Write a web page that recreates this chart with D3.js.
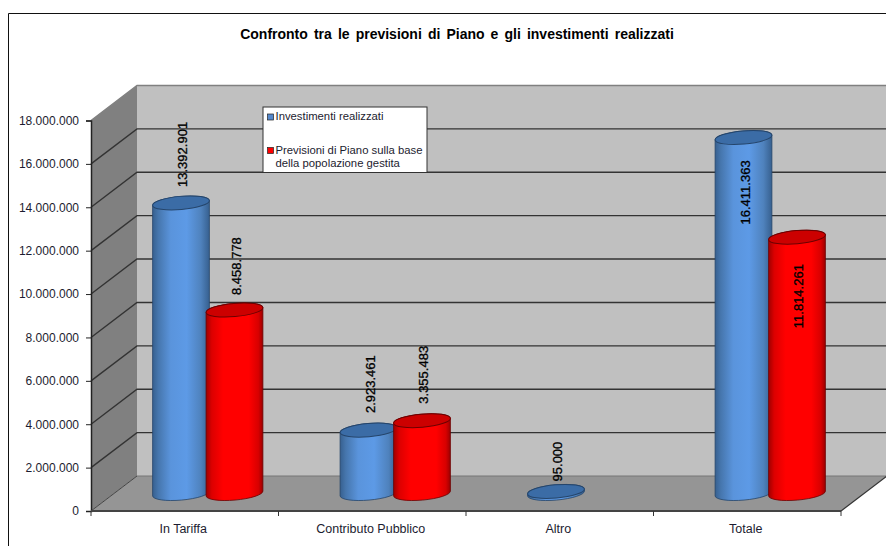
<!DOCTYPE html>
<html>
<head>
<meta charset="utf-8">
<script src="https://cdn.jsdelivr.net/npm/d3@7/dist/d3.min.js"></script>
<style>
  html, body { margin: 0; padding: 0; background: #fff; }
  svg { display: block; font-family: "Liberation Sans", Arial, sans-serif; }
</style>
</head>
<body>
<div id="chart"></div>
<script>
// Data
const categories = ["In Tariffa", "Contributo Pubblico", "Altro", "Totale"];
const seriesNames = ["Investimenti realizzati", "Previsioni di Piano sulla base"];
const investimenti = [13392901, 2923461, 95000, 16411363];
const previsioni = [8458778, 3355483, null, 11814261];
const yTicks = [0, 2e6, 4e6, 6e6, 8e6, 10e6, 12e6, 14e6, 16e6, 18e6];

// Distance from each cylinder's top to the start of its label (negative = inside the bar)
const labelLift = [[16, 15], [17, 17], [10, 0], [-87, -91]];

const width = 886, height = 546;
const front = { left: 91, right: 841, top: 120.5, bottom: 511 };
const depth = { x: 46, y: -35 };

const svg = d3.select("#chart").append("svg").attr("width", width).attr("height", height);

const y = d3.scaleLinear().domain([0, 18e6]).range([front.bottom, front.top]);
const x = d3.scaleBand().domain(categories).range([front.left, front.right]);
const seriesX = d3.scaleBand().domain([0, 1]).range([-53.5, 53.5]);
const it = d3.formatLocale({ decimal: ",", thousands: ".", grouping: [3], currency: ["€", ""] });
const fmt = it.format(",d");

// Outer frame: only the top and left edges fall inside the page
svg.append("path")
  .attr("d", `M8.5,${height}V13.5H${width}`)
  .attr("fill", "none").attr("stroke", "#111").attr("stroke-width", 1);

// Title
svg.append("text").attr("x", 457).attr("y", 39).attr("text-anchor", "middle")
  .attr("font-size", 14).attr("font-weight", "bold").attr("fill", "#000")
  .attr("word-spacing", 2.2)
  .text("Confronto tra le previsioni di Piano e gli investimenti realizzati");

// 3D box: back wall, side wall, floor
const bx = front.left + depth.x, bxr = front.right + depth.x;
const by = v => y(v) + depth.y;
const line = d3.line();
const gridColor = "#333";

svg.append("path")
  .attr("d", line([[bx, by(18e6)], [bxr, by(18e6)], [bxr, by(0)], [bx, by(0)]]) + "Z")
  .attr("fill", "#c0c0c0");
svg.append("path")
  .attr("d", line([[front.left, y(18e6)], [bx, by(18e6)], [bx, by(0)], [front.left, y(0)]]) + "Z")
  .attr("fill", "#808080");
svg.append("path")
  .attr("d", line([[front.left, y(0)], [bx, by(0)], [bxr, by(0)], [front.right, y(0)]]) + "Z")
  .attr("fill", "#959595");

// Gridlines on both walls
svg.append("g").selectAll("path").data(yTicks.slice(1)).join("path")
  .attr("d", d => line([[front.left, y(d)], [bx, by(d)], [bxr, by(d)]]))
  .attr("fill", "none")
  .attr("stroke", d => d === 18e6 ? "#808080" : gridColor)
  .attr("stroke-width", 1.4);
svg.append("path")
  .attr("d", line([[front.left, y(0)], [bx, by(0)]]))
  .attr("stroke", "#444").attr("stroke-width", 1).attr("fill", "none");
svg.append("path")
  .attr("d", line([[bx, by(0)], [bxr, by(0)]]))
  .attr("stroke", "#777").attr("stroke-width", 1).attr("fill", "none");
svg.append("path")
  .attr("d", line([[front.right, y(0)], [bxr, by(0)]]))
  .attr("stroke", "#333").attr("stroke-width", 1.2).attr("fill", "none");

// Axes
const yAxis = svg.append("g").attr("transform", `translate(${front.left},0)`)
  .call(d3.axisLeft(y).tickValues(yTicks).tickFormat(fmt).tickSize(5).tickPadding(7));
const xAxis = svg.append("g").attr("transform", `translate(-1.5,${front.bottom})`)
  .call(d3.axisBottom(x).tickSize(0).tickPadding(13));
xAxis.select(".domain").remove();
yAxis.select(".domain").attr("stroke", "#222").attr("stroke-width", 1.5);
yAxis.selectAll("line").attr("stroke", "#222");
yAxis.selectAll("text")
  .attr("font-size", 12).attr("font-family", "Liberation Sans, Arial, sans-serif").attr("fill", "#1c1c30");
xAxis.selectAll("text")
  .attr("font-size", 12.5).attr("font-family", "Liberation Sans, Arial, sans-serif").attr("fill", "#1c1c30");

svg.append("path")
  .attr("d", line([[front.left, y(0)], [front.right, y(0)]]))
  .attr("stroke", "#444").attr("stroke-width", 2).attr("fill", "none");
svg.append("g").selectAll("path").data(d3.range(categories.length + 1)).join("path")
  .attr("d", i => {
    const px = front.left + i * x.step();
    return line([[px, front.bottom], [px, front.bottom + 5]]);
  })
  .attr("stroke", "#333").attr("stroke-width", 1).attr("fill", "none");

// Cylinder shading
const defs = svg.append("defs");
const palettes = [
  { id: "blueBody", top: "#3b6ca6", edge: "#25456b",
    stops: [[0, "#37608f"], [0.1, "#4676ad"], [0.32, "#5a94dc"], [0.6, "#5d9ae6"], [0.85, "#4f82bd"], [1, "#37608f"]] },
  { id: "redBody", top: "#cc0000", edge: "#6c0000",
    stops: [[0, "#a00000"], [0.1, "#dc0000"], [0.3, "#ff0000"], [0.75, "#ff0000"], [0.92, "#d80000"], [1, "#9c0000"]] }
];
palettes.forEach(p => {
  const g = defs.append("linearGradient").attr("id", p.id);
  g.selectAll("stop").data(p.stops).join("stop")
    .attr("offset", d => d[0]).attr("stop-color", d => d[1]);
});

// Cylinders stand halfway back on the floor
const rx = 28.5, ry = 6.6, tilt = -5;
const rad = tilt * Math.PI / 180;
const ex = rx * Math.cos(rad), ey = rx * Math.sin(rad);
const midX = depth.x / 2, midY = depth.y / 2;

const series = [investimenti, previsioni];
const bars = [];
series.forEach((values, s) => values.forEach((v, c) => {
  if (v !== null) bars.push({ s, c, v });
}));

const centerX = d => x(categories[d.c]) + x.bandwidth() / 2 + midX + seriesX(d.s) + seriesX.bandwidth() / 2;
const baseY = () => y(0) + midY;
const topY = d => y(d.v) + midY;

const gBars = svg.append("g");
bars.sort((a, b) => a.c - b.c || a.s - b.s).forEach(d => {
  const cx = centerX(d), t = topY(d), b = baseY();
  const p = palettes[d.s];
  const g = gBars.append("g");
  g.append("path")
    .attr("d", `M${cx - ex},${t - ey}L${cx - ex},${b - ey}` +
      `A${rx},${ry} ${tilt} 0 0 ${cx + ex},${b + ey}L${cx + ex},${t + ey}` +
      `A${rx},${ry} ${tilt} 0 0 ${cx - ex},${t - ey}Z`)
    .attr("fill", `url(#${p.id})`).attr("stroke", p.edge).attr("stroke-width", 0.8);
  g.append("ellipse")
    .attr("rx", rx).attr("ry", ry)
    .attr("transform", `translate(${cx},${t}) rotate(${tilt})`)
    .attr("fill", p.top).attr("stroke", p.edge).attr("stroke-width", 1);
});

// Value labels, rotated along the bars
svg.append("g").selectAll("text").data(bars).join("text")
  .attr("transform", d => `translate(${centerX(d) + 6},${topY(d) - labelLift[d.c][d.s]}) rotate(-90)`)
  .attr("font-size", 13).attr("fill", "#000")
  .attr("stroke", "#000").attr("stroke-width", 0.3)
  .text(d => fmt(d.v));

// Legend
const legend = svg.append("g");
legend.append("rect").attr("x", 263).attr("y", 107).attr("width", 164).attr("height", 65.5)
  .attr("fill", "#fff").attr("stroke", "#333").attr("stroke-width", 1);
legend.selectAll("rect.key").data(palettes).join("rect").attr("class", "key")
  .attr("x", 267.5).attr("y", (d, i) => i ? 147.5 : 114)
  .attr("width", 6).attr("height", 6)
  .attr("fill", (d, i) => i ? "#ff0000" : "#5588cc").attr("stroke", "#222").attr("stroke-width", 0.7);
const legendText = (t, ly) => legend.append("text").attr("x", 275.5).attr("y", ly)
  .attr("font-size", 11.3).attr("fill", "#1c1c30").text(t);
legendText(seriesNames[0], 120);
legendText(seriesNames[1], 154);
legendText("della popolazione gestita", 167);
</script>
</body>
</html>
